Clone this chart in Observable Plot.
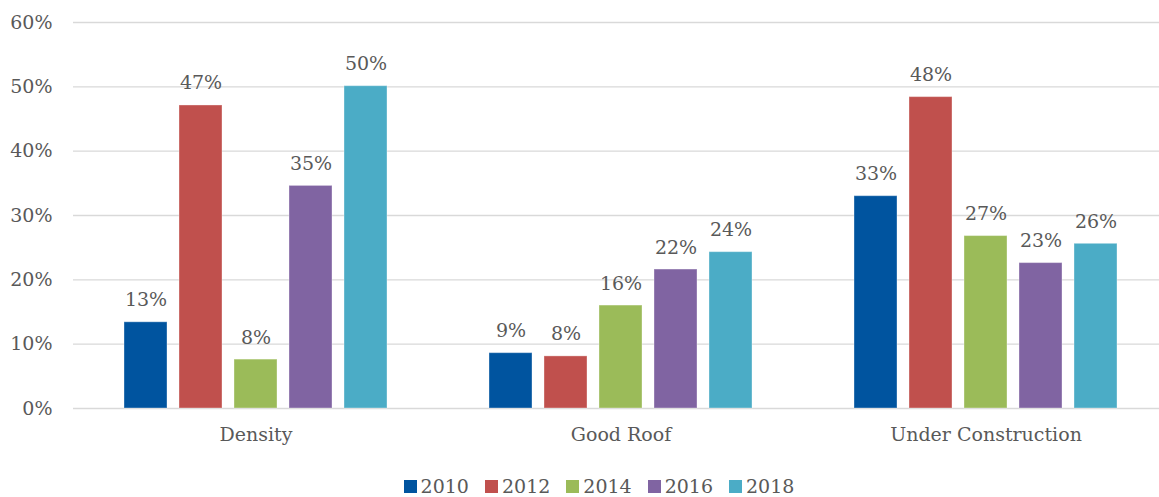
<!DOCTYPE html>
<html>
<head>
<meta charset="utf-8">
<script src="https://cdn.jsdelivr.net/npm/d3@7"></script>
<script src="https://cdn.jsdelivr.net/npm/@observablehq/plot@0.6"></script>
<style>
  html, body { margin: 0; padding: 0; background: #fff; overflow: hidden; }
  #chart svg { display: block; }
  .legend { display: flex; justify-content: center; align-items: center; height: 22px; line-height: 22px;
    font-family: "DejaVu Serif", serif; font-size: 19px; color: #595959; padding-left: 39px; }
  .legend .item { display: flex; align-items: center; margin: 0 8px; }
  .legend .sw { width: 13px; height: 13px; margin-right: 4px; }
</style>
</head>
<body>
<div id="chart"></div>
<script>
const categories = ["Density", "Good Roof", "Under Construction"];
const years = ["2010", "2012", "2014", "2016", "2018"];
const colors = ["#00549F", "#C0504D", "#9BBB59", "#8064A2", "#4BACC6"];
const values2010 = [13.4, 8.6, 33.0];
const values2012 = [47.1, 8.1, 48.4];
const values2014 = [7.6, 16.0, 26.8];
const values2016 = [34.6, 21.6, 22.6];
const values2018 = [50.1, 24.3, 25.6];
const yTicks = [0, 10, 20, 30, 40, 50, 60];

const series = [values2010, values2012, values2014, values2016, values2018];
const data = [];
categories.forEach((c, i) => {
  years.forEach((y, j) => data.push({category: c, year: y, value: series[j][i]}));
});

const textColor = "#595959";
const fontStack = "DejaVu Serif";
const chart = Plot.plot({
  width: 1159,
  height: 475,
  marginTop: 22,
  marginBottom: 67,
  marginLeft: 73,
  marginRight: 0,
  style: {fontFamily: fontStack, fontSize: "19px", color: textColor, background: "#fff"},
  fx: {domain: categories, range: [72.5, 1167.5], padding: 0, axis: "bottom", tickSize: 0, tickPadding: 19, label: null},
  x: {domain: years, axis: null, paddingInner: 0.214, paddingOuter: 0.866},
  y: {domain: [0, 60], ticks: yTicks, tickFormat: d => d + "%", tickSize: 0, tickPadding: 21, label: null},
  color: {domain: years, range: colors},
  marks: [
    Plot.ruleY(yTicks, {stroke: "#d9d9d9", strokeWidth: 1.3}),
    Plot.barY(data, {fx: "category", x: "year", y: "value", fill: "year", stroke: "#ffffff", strokeOpacity: 0.35, strokeWidth: 1}),
    Plot.text(data, {fx: "category", x: "year", y: "value", text: d => Math.round(d.value) + "%",
      lineAnchor: "bottom", dy: -16, fill: textColor, fontSize: 19, fontFamily: fontStack})
  ]
});
document.getElementById("chart").appendChild(chart);

const legend = document.createElement("div");
legend.className = "legend";
years.forEach((y, i) => {
  const item = document.createElement("div");
  item.className = "item";
  const sw = document.createElement("span");
  sw.className = "sw";
  sw.style.background = colors[i];
  const t = document.createElement("span");
  t.textContent = y;
  item.appendChild(sw);
  item.appendChild(t);
  legend.appendChild(item);
});
document.body.appendChild(legend);
</script>
</body>
</html>
